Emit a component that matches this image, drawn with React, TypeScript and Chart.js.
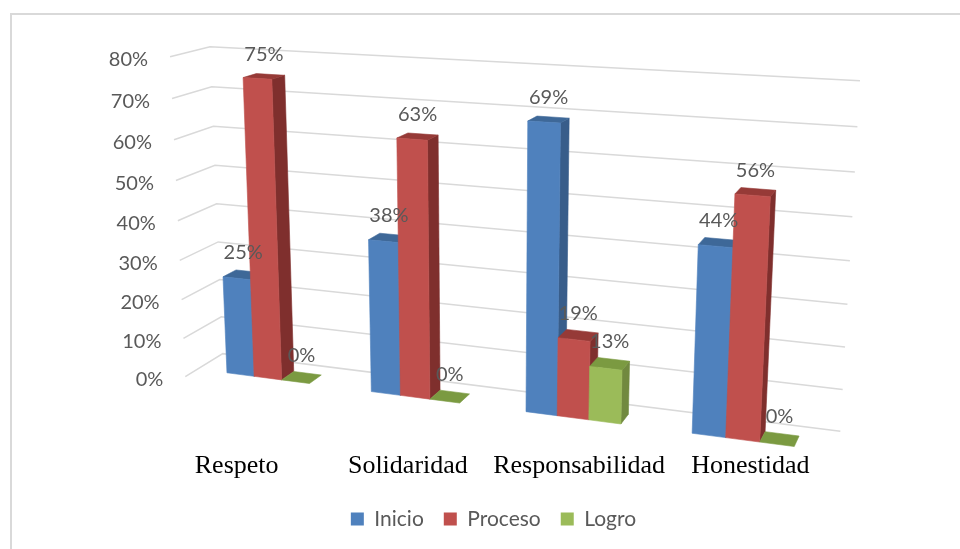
import React, { useEffect, useRef } from 'react';
import { Chart, registerables } from 'chart.js';

Chart.register(...registerables);

// ---- data ----
const categories = ['Respeto', 'Solidaridad', 'Responsabilidad', 'Honestidad'];
const seriesNames = ['Inicio', 'Proceso', 'Logro'];
const inicio = [25, 38, 69, 44];
const proceso = [75, 63, 19, 56];
const logro = [0, 0, 13, 0];
const yTicks = [0, 10, 20, 30, 40, 50, 60, 70, 80];
const yMax = 80;

// ---- style ----
const FRONT = ['#4f81bd', '#c0504d', '#9bbb59'];
const SIDE = ['#385d8a', '#7f2f2d', '#71893f'];
const TOP = ['#3e6898', '#963a37', '#7b9a41'];
const LABEL_FONT = '20px Lato, "Open Sans", sans-serif';
const TEXT_GREY = '#595959';

// ---- 3D view ----
const DEG = Math.PI / 180;
const CAM = { px: 488, py: 209, f: 1575, yaw: 20 * DEG, pitch: 13.6 * DEG, tx: -320, ty: 177.3, tz: 1665 };
const WORLD = { w: 672, h: 340, d: 80, barFront: 26, barBack: 54 };

function project(u: number, v: number, w: number): [number, number] {
  const cy = Math.cos(CAM.yaw), sy = Math.sin(CAM.yaw);
  const cp = Math.cos(CAM.pitch), sp = Math.sin(CAM.pitch);
  const x1 = u * cy + w * sy;
  const z1 = -u * sy + w * cy;
  const xc = x1 + CAM.tx;
  const yc = v * cp - z1 * sp + CAM.ty;
  const zc = v * sp + z1 * cp + CAM.tz;
  return [CAM.px + (CAM.f * xc) / zc, CAM.py + (CAM.f * yc) / zc];
}

function poly(ctx: CanvasRenderingContext2D, pts: [number, number][], color: string) {
  ctx.beginPath();
  ctx.moveTo(pts[0][0], pts[0][1]);
  for (let k = 1; k < pts.length; k++) ctx.lineTo(pts[k][0], pts[k][1]);
  ctx.closePath();
  ctx.fillStyle = color;
  ctx.fill();
  ctx.strokeStyle = color;
  ctx.lineWidth = 0.6;
  ctx.stroke();
}

const threeD = {
  id: 'threeD',
  beforeDatasetsDraw(chart: any) {
    const { ctx, chartArea: ca, scales } = chart;
    const yS = scales.y;
    const toU = (px: number) => ((px - ca.left) / (ca.right - ca.left)) * WORLD.w;
    const toV = (py: number) => ((py - ca.bottom) / (ca.bottom - ca.top)) * WORLD.h;
    ctx.save();

    // gridlines: side wall + back wall
    ctx.strokeStyle = '#d9d9d9';
    ctx.lineWidth = 1.5;
    for (const t of yTicks) {
      const v = toV(yS.getPixelForValue(t));
      const a = project(0, v, 0);
      const b = project(0, v, WORLD.d);
      const c = project(WORLD.w, v, WORLD.d);
      ctx.beginPath();
      ctx.moveTo(a[0], a[1]);
      ctx.lineTo(b[0], b[1]);
      ctx.lineTo(c[0], c[1]);
      ctx.stroke();
    }

    // y tick labels
    ctx.font = LABEL_FONT;
    ctx.fillStyle = TEXT_GREY;
    ctx.textAlign = 'right';
    ctx.textBaseline = 'middle';
    for (const t of yTicks) {
      const v = toV(yS.getPixelForValue(t));
      const a = project(0, v, 0);
      ctx.fillText(`${t}%`, a[0] - 22, a[1] + 3);
    }

    // bars
    const bars: any[] = [];
    chart.data.datasets.forEach((ds: any, i: number) => {
      if (!chart.isDatasetVisible(i)) return;
      const meta = chart.getDatasetMeta(i);
      meta.data.forEach((el: any, j: number) => {
        const p = el.getProps(['x', 'y', 'base', 'width'], true);
        bars.push({
          i,
          u0: toU(p.x - p.width / 2),
          u1: toU(p.x + p.width / 2),
          vt: toV(p.y),
          vb: toV(p.base),
          value: ds.data[j],
        });
      });
    });
    bars.sort((a, b) => a.u0 - b.u0);
    const wf = WORLD.barFront, wb = WORLD.barBack;
    for (const b of bars) {
      const { u0, u1, vt, vb, i } = b;
      if (Math.abs(vt - vb) > 0.01) {
        poly(ctx, [project(u1, vb, wf), project(u1, vb, wb), project(u1, vt, wb), project(u1, vt, wf)], SIDE[i]);
        poly(ctx, [project(u0, vt, wf), project(u1, vt, wf), project(u1, vt, wb), project(u0, vt, wb)], TOP[i]);
        poly(ctx, [project(u0, vb, wf), project(u1, vb, wf), project(u1, vt, wf), project(u0, vt, wf)], FRONT[i]);
      } else {
        poly(ctx, [project(u0, vt, wf), project(u1, vt, wf), project(u1, vt, wb), project(u0, vt, wb)], TOP[i]);
      }
    }

    // data labels
    ctx.font = LABEL_FONT;
    ctx.fillStyle = TEXT_GREY;
    ctx.textAlign = 'center';
    ctx.textBaseline = 'middle';
    for (const b of bars) {
      const a = project((b.u0 + b.u1) / 2, b.vt, (wf + wb) / 2);
      ctx.fillText(`${b.value}%`, a[0], a[1] - 22);
    }

    ctx.restore();
    return false;
  },
};

export default function App() {
  const ref = useRef<HTMLCanvasElement | null>(null);

  useEffect(() => {
    if (!ref.current) return;
    const chart = new Chart(ref.current, {
      type: 'bar',
      data: {
        labels: categories,
        datasets: [
          { label: seriesNames[0], data: inicio, backgroundColor: FRONT[0], borderWidth: 0 },
          { label: seriesNames[1], data: proceso, backgroundColor: FRONT[1], borderWidth: 0 },
          { label: seriesNames[2], data: logro, backgroundColor: FRONT[2], borderWidth: 0 },
        ],
      },
      options: {
        responsive: false,
        animation: false,
        datasets: { bar: { categoryPercentage: 0.58, barPercentage: 1 } },
        layout: { padding: { left: 151, right: 124, top: 40, bottom: 9.5 } },
        scales: {
          x: {
            grid: { display: false, drawTicks: false },
            border: { display: false },
            ticks: {
              color: '#000000',
              font: { family: '"Liberation Serif", "Times New Roman", serif', size: 26 },
              maxRotation: 0,
              minRotation: 0,
              autoSkip: false,
              padding: 3,
            },
            afterFit: (scale: any) => {
              scale.height = 41;
            },
          },
          y: { display: false, min: 0, max: yMax },
        },
        plugins: {
          legend: {
            position: 'bottom',
            labels: {
              boxWidth: 13,
              boxHeight: 13,
              padding: 20,
              color: TEXT_GREY,
              font: { family: 'Lato, "Open Sans", sans-serif', size: 21 },
            },
          },
          tooltip: { enabled: false },
        },
      },
      plugins: [threeD],
    } as any);
    return () => chart.destroy();
  }, []);

  return (
    <div style={{ position: 'fixed', left: 0, top: 0, width: 960, height: 549, overflow: 'hidden', background: '#ffffff' }}>
      <div
        style={{
          position: 'absolute',
          left: 10,
          top: 13,
          width: 1000,
          height: 600,
          border: '2px solid #d9d9d9',
          boxSizing: 'border-box',
        }}
      />
      <canvas ref={ref} width={960} height={549} style={{ position: 'absolute', left: 0, top: 0, width: 960, height: 549 }} />
    </div>
  );
}
